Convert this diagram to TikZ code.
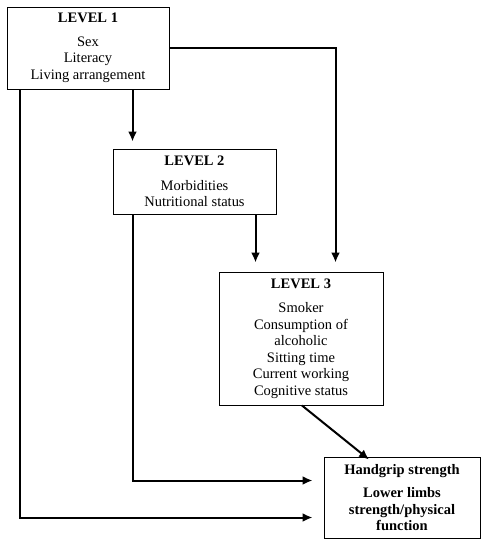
\documentclass[tikz,border=0pt]{standalone}
\usepackage{fontspec}
\setmainfont{Liberation Serif}
\usetikzlibrary{calc,positioning,arrows.meta}

\begin{document}
\begin{tikzpicture}[x=1pt,y=-1pt]
    \tikzstyle{lnode} = [draw, line width=1pt, rectangle, align=center, inner sep=0pt, font=\fontsize{14.5}{16.5}\selectfont]
    \tikzstyle{arr} = [line width=2pt, -{Latex[length=10pt,width=9pt]}]
    \useasboundingbox (0,0) rectangle (481,539);

    \node[lnode, minimum width=162pt, minimum height=82pt] (l1) at (88,48)
        {\textbf{LEVEL 1}\\[7pt] Sex\\ Literacy\\ Living arrangement};
    \node[lnode, minimum width=163pt, minimum height=65pt] (l2) at (194.5,181.5)
        {\textbf{LEVEL 2}\\[8pt] Morbidities\\ Nutritional status};
    \node[lnode, minimum width=164pt, minimum height=133pt] (l3) at (301,338.5)
        {\textbf{LEVEL 3}\\[8pt] Smoker\\ Consumption of\\ alcoholic\\ Sitting time\\ Current working\\ Cognitive status};
    \node[lnode, font=\fontsize{14.5}{16.5}\selectfont\bfseries, minimum width=156pt, minimum height=81pt] (out) at (402,497.5)
        {Handgrip strength\\[7pt] Lower limbs\\ strength/physical\\ function};

    % entry points on the boxes
    \coordinate (a12) at ([xshift=20pt]l2.north west);
    \coordinate (a23) at ([xshift=37pt]l3.north west);
    \coordinate (a13) at ([xshift=117pt]l3.north west);
    \coordinate (b1) at ([xshift=13.7pt]l1.south west);
    \coordinate (o1) at ([yshift=-24pt]out.north west);
    \coordinate (o2) at ([yshift=-61pt]out.north west);

    \draw[arr, shorten >=7pt] (l1.south -| a12) -- (a12);
    \draw[arr, shorten >=9pt] (l2.south -| a23) -- (a23);
    \draw[arr, shorten >=9pt] (l1.east) -| (a13);
    \draw[arr] ([xshift=1pt]l3.south) -- ([xshift=-33pt,yshift=-3pt]out.north);
    \draw[arr, shorten >=11pt] (l2.south -| a12) |- (o1);
    \draw[arr, shorten >=11pt] (b1) |- (o2);
\end{tikzpicture}
\end{document}
